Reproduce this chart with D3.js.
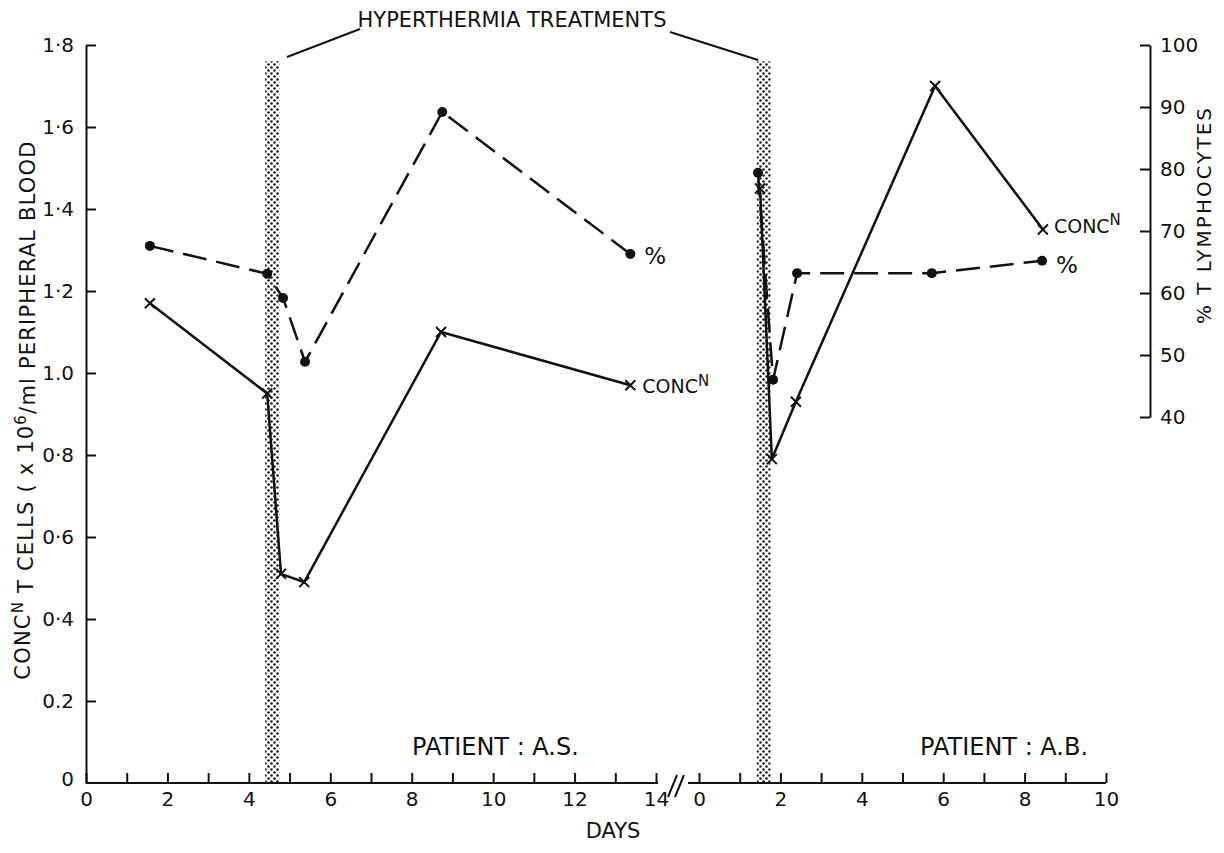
<!DOCTYPE html>
<html>
<head>
<meta charset="utf-8">
<script src="https://cdn.jsdelivr.net/npm/d3@7"></script>
<style>
  html, body { margin: 0; padding: 0; background: #fff; }
  svg { display: block; }
  text { font-family: "DejaVu Sans", sans-serif; fill: #111; }
</style>
</head>
<body>
<svg id="chart" width="1224" height="853"></svg>
<script>
// Patient A.S. (left panel, days 0-14)
const daysAS_pct = [1.57, 4.45, 4.84, 5.38, 8.75, 13.37];
const pctAS = [67.6, 63.1, 59.2, 48.9, 89.2, 66.3];
const daysAS_conc = [1.57, 4.45, 4.79, 5.36, 8.72, 13.37];
const concAS = [1.17, 0.95, 0.51, 0.49, 1.10, 0.97];

// Patient A.B. (right panel, days 0-10)
const daysAB_pct = [1.45, 1.82, 2.41, 5.72, 8.43];
const pctAB = [79.4, 46.0, 63.2, 63.2, 65.2];
const daysAB_conc = [1.50, 1.79, 2.38, 5.80, 8.45];
const concAB = [1.45, 0.79, 0.93, 1.70, 1.35];

// Hyperthermia treatment periods (days) in each panel
const treatmentAS = [4.40, 4.75];
const treatmentAB = [1.42, 1.76];
const treatmentTop = 1.76;

// Axis tick values and labels
const concTicks = [0, 0.2, 0.4, 0.6, 0.8, 1.0, 1.2, 1.4, 1.6, 1.8];
const concTickLabels = ["0", "0.2", "0·4", "0·6", "0·8", "1.0", "1·2", "1·4", "1·6", "1·8"];
const pctTicks = [40, 50, 60, 70, 80, 90, 100];
const dayTicksAS = d3.range(0, 15, 1);
const dayTicksAB = d3.range(0, 11, 1);

const svg = d3.select("#chart");

const xAS = d3.scaleLinear().domain([0, 14]).range([86, 656]);
const xAB = d3.scaleLinear().domain([0, 10]).range([699, 1106]);
const yConc = d3.scaleLinear().domain([0, 1.8]).range([783, 45]);
const yPct = d3.scaleLinear().domain([40, 100]).range([417, 45]);

// stipple pattern for the treatment bands
const defs = svg.append("defs");
const pat = defs.append("pattern").attr("id", "stipple")
  .attr("patternUnits", "userSpaceOnUse").attr("width", 6).attr("height", 6);
pat.append("circle").attr("cx", 1.5).attr("cy", 1.5).attr("r", 1.3).attr("fill", "#1a1a1a");
pat.append("circle").attr("cx", 4.5).attr("cy", 4.5).attr("r", 1.3).attr("fill", "#1a1a1a");

function band(x, range) {
  svg.append("rect")
    .attr("x", x(range[0])).attr("y", yConc(treatmentTop))
    .attr("width", x(range[1]) - x(range[0]))
    .attr("height", yConc(0) - yConc(treatmentTop))
    .attr("fill", "url(#stipple)");
}
band(xAS, treatmentAS);
band(xAB, treatmentAB);

// axes
function styleAxis(g) {
  g.selectAll("path, line").attr("stroke", "#111").attr("stroke-width", 2);
  g.selectAll("text").style("font-size", "20px").attr("fill", "#111")
    .style("font-family", '"DejaVu Sans", sans-serif');
}

const axAS = svg.append("g").attr("transform", `translate(0,${yConc(0)})`)
  .call(d3.axisBottom(xAS).tickValues(dayTicksAS).tickSizeInner(-10).tickSizeOuter(0)
    .tickPadding(9).tickFormat(d => d % 2 === 0 ? d : ""));
styleAxis(axAS);
axAS.select(".domain").attr("d", `M${xAS(0)},0H${xAS(14) + 2}`);

const axAB = svg.append("g").attr("transform", `translate(0,${yConc(0)})`)
  .call(d3.axisBottom(xAB).tickValues(dayTicksAB).tickSizeInner(-10).tickSizeOuter(0)
    .tickPadding(9).tickFormat(d => d % 2 === 0 ? d : ""));
styleAxis(axAB);
axAB.select(".domain").attr("d", `M${xAB(0) - 11},0H${xAB(10)}`);

const axL = svg.append("g").attr("transform", `translate(${xAS(0)},0)`)
  .call(d3.axisLeft(yConc).tickValues(concTicks).tickSizeInner(-10).tickSizeOuter(0)
    .tickPadding(12).tickFormat((d, i) => concTickLabels[i]));
styleAxis(axL);
axL.selectAll(".tick").filter(d => d === 0).select("line").remove();
axL.selectAll(".tick").filter(d => d === 0).select("text").attr("dy", "0.1em");

const axR = svg.append("g").attr("transform", `translate(1150,0)`)
  .call(d3.axisRight(yPct).tickValues(pctTicks).tickSizeInner(-10).tickSizeOuter(0)
    .tickPadding(10));
styleAxis(axR);

// axis break mark
svg.append("g").selectAll("line").data([0, 7]).join("line")
  .attr("x1", d => 668 + d).attr("y1", 797)
  .attr("x2", d => 677 + d).attr("y2", 775)
  .attr("stroke", "#111").attr("stroke-width", 2);

// axis titles
svg.append("text").attr("x", 613).attr("y", 838).attr("text-anchor", "middle")
  .style("font-size", "21px").text("DAYS");

const lt = svg.append("text").attr("transform", "translate(30,410) rotate(-90)")
  .attr("text-anchor", "middle").style("font-size", "21px").style("letter-spacing", "1.2px");
lt.append("tspan").text("CONC");
lt.append("tspan").attr("dy", "-0.45em").style("font-size", "15px").text("N");
lt.append("tspan").attr("dy", "0.45em").text(" T CELLS ( x 10");
lt.append("tspan").attr("dy", "-0.45em").style("font-size", "15px").text("6");
lt.append("tspan").attr("dy", "0.45em").text("/ml PERIPHERAL BLOOD");

svg.append("text").attr("transform", "translate(1211,215) rotate(-90)")
  .attr("text-anchor", "middle").style("font-size", "20px").style("letter-spacing", "2px")
  .text("% T LYMPHOCYTES");

// series lines
function series(x, days, vals, y, dashed) {
  const pts = days.map((d, i) => [x(d), y(vals[i])]);
  svg.append("path").attr("d", d3.line()(pts))
    .attr("fill", "none").attr("stroke", "#111").attr("stroke-width", 2.5)
    .attr("stroke-dasharray", dashed ? "24 10" : null);
  return pts;
}
function dots(pts) {
  svg.append("g").selectAll("circle").data(pts).join("circle")
    .attr("cx", d => d[0]).attr("cy", d => d[1]).attr("r", 5).attr("fill", "#111");
}
function crosses(pts) {
  const s = 5;
  svg.append("g").selectAll("path").data(pts).join("path")
    .attr("d", d => `M${d[0] - s},${d[1] - s}L${d[0] + s},${d[1] + s}M${d[0] - s},${d[1] + s}L${d[0] + s},${d[1] - s}`)
    .attr("stroke", "#111").attr("stroke-width", 2).attr("fill", "none");
}

const pAS = series(xAS, daysAS_pct, pctAS, yPct, true);
const cAS = series(xAS, daysAS_conc, concAS, yConc, false);
const pAB = series(xAB, daysAB_pct, pctAB, yPct, true);
const cAB = series(xAB, daysAB_conc, concAB, yConc, false);
dots(pAS); dots(pAB);
crosses(cAS); crosses(cAB);

// series labels
function concLabel(x, y) {
  const t = svg.append("text").attr("x", x).attr("y", y).style("font-size", "19px");
  t.append("tspan").text("CONC");
  t.append("tspan").attr("dy", "-0.5em").style("font-size", "15px").text("N");
}
function pctLabel(x, y) {
  svg.append("text").attr("x", x).attr("y", y).style("font-size", "23px").text("%");
}
pctLabel(xAS(daysAS_pct[5]) + 14, yPct(pctAS[5]) + 10);
concLabel(xAS(daysAS_conc[5]) + 12, yConc(concAS[5]) + 8);
pctLabel(xAB(daysAB_pct[4]) + 14, yPct(pctAB[4]) + 12);
concLabel(xAB(daysAB_conc[4]) + 11, yConc(concAB[4]) + 3);

// patient labels
svg.append("text").attr("x", 412).attr("y", 755).style("font-size", "24px").text("PATIENT : A.S.");
svg.append("text").attr("x", 920).attr("y", 755).style("font-size", "24px").text("PATIENT : A.B.");

// treatment annotation
svg.append("text").attr("x", 512).attr("y", 27).attr("text-anchor", "middle")
  .style("font-size", "21px").text("HYPERTHERMIA TREATMENTS");
svg.append("line").attr("x1", 287).attr("y1", 57).attr("x2", 360).attr("y2", 29)
  .attr("stroke", "#111").attr("stroke-width", 2);
svg.append("line").attr("x1", 670).attr("y1", 32).attr("x2", 758).attr("y2", 60)
  .attr("stroke", "#111").attr("stroke-width", 2);
</script>
</body>
</html>
